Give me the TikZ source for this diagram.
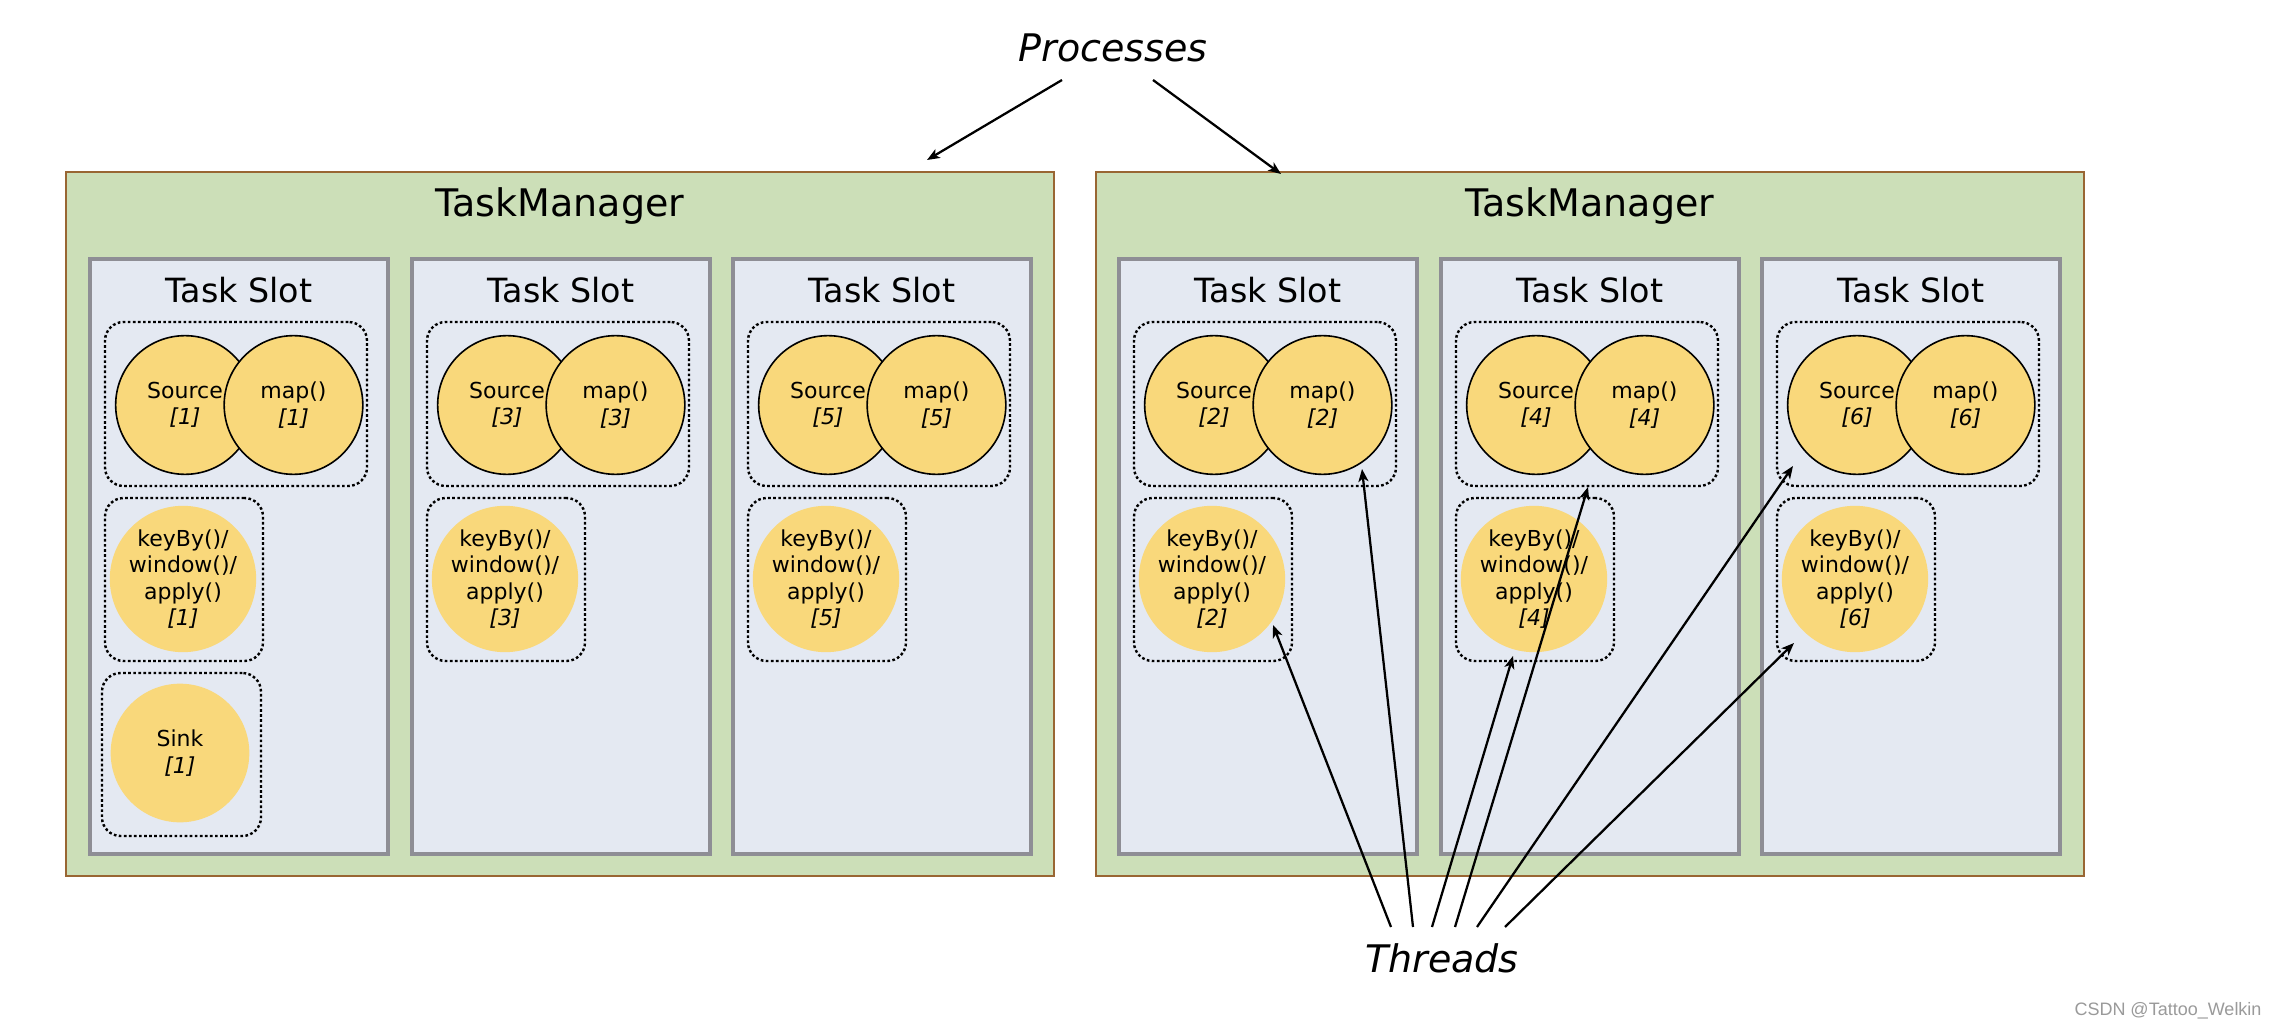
\documentclass[tikz,border=0pt]{standalone}
\usepackage{fontspec}
\setmainfont{DejaVu Sans}
\newfontfamily\wmfont{Liberation Sans}
\usetikzlibrary{arrows.meta,calc}
\definecolor{tmfill}{HTML}{CCDFB8}
\definecolor{tmdraw}{HTML}{996633}
\definecolor{slotfill}{HTML}{E4E9F2}
\definecolor{slotdraw}{HTML}{8E8E95}
\definecolor{opfill}{HTML}{F9D87B}
\definecolor{wmgray}{HTML}{9A9A9A}
\tikzset{
  tmbox/.style={draw=tmdraw, fill=tmfill, line width=2.2pt, minimum width=741pt, minimum height=528pt, inner sep=0pt},
  tmlabel/.style={font=\fontsize{28.5}{34}\selectfont, inner sep=0pt},
  slotbox/.style={draw=slotdraw, fill=slotfill, line width=2.3pt, minimum width=223.5pt, minimum height=446.25pt, inner sep=0pt},
  slotlabel/.style={font=\fontsize{25}{30}\selectfont, inner sep=0pt},
  grp/.style={draw=black, line width=1.8pt, dash pattern=on 2pt off 1.8pt, rounded corners=14pt, inner sep=0pt},
  op/.style={circle, fill=opfill, line width=1.2pt, minimum size=104pt, inner sep=0pt, align=center, font=\fontsize{16.5}{19.8}\selectfont},
  biglabel/.style={font=\fontsize{28.5}{34}\itshape, inner sep=0pt},
  arr/.style={line width=1.7pt, -{Stealth[length=9.5pt, width=7.5pt, inset=2.5pt]}},
}
\newcommand\myslot[2]{%
  \node[slotbox] (slot#2) at (#1+149, 556.5) {};
  \node[slotlabel] (slotlab#2) at (#1+149, 290) {Task Slot};
  \node[grp, minimum width=196.5pt, minimum height=123pt] (ga#2) at (#1+146, 404) {};
  \node[op, draw=black] (src#2) at (#1+95, 405) {Source\\\textit{[#2]}};
  \node[op, draw=black] (map#2) at (#1+203.5, 405) {map()\\\textit{[#2]}};
  \node[grp, minimum width=118.5pt, minimum height=122.25pt] (gb#2) at (#1+94, 579.5) {};
  \node[op] (kb#2) at (#1+93, 579) {keyBy()/\\window()/\\apply()\\\textit{[#2]}};
}
\begin{document}
\begin{tikzpicture}[x=0.75pt, y=-0.75pt]
  \useasboundingbox[fill=white] (0,0) rectangle (2282,1030);
  % Task managers
  \node[tmbox] (tm1) at (560, 524) {};
  \node[tmbox] (tm2) at (1590, 524) {};
  \node[tmlabel] (tml1) at (560, 206) {TaskManager};
  \node[tmlabel] (tml2) at (1590, 206) {TaskManager};
  % slots
  \myslot{90}{1}
  \myslot{412}{3}
  \myslot{733}{5}
  \myslot{1119}{2}
  \myslot{1441}{4}
  \myslot{1762}{6}
  % sink group in first slot
  \node[grp, minimum width=119.25pt, minimum height=122.25pt] (gc1) at (181.5, 754.5) {};
  \node[op] (sink1) at (180, 753) {Sink\\\textit{[1]}};
  % Processes
  \node[biglabel] (proc) at (1113, 48) {Processes};
  \coordinate (ps1) at (1062, 80);
  \coordinate (ps2) at (1153, 80);
  \coordinate (pe1) at (927, 160);
  \coordinate (pe2) at (1281, 174);
  \draw[arr] (ps1) -- (pe1);
  \draw[arr] (ps2) -- (pe2);
  % Threads
  \node[biglabel] (thr) at (1442, 958) {Threads};
  \coordinate (ts1) at (1391, 927);
  \coordinate (ts2) at (1413, 927);
  \coordinate (ts3) at (1432, 927);
  \coordinate (ts4) at (1455, 927);
  \coordinate (ts5) at (1477, 927);
  \coordinate (ts6) at (1505, 927);
  \coordinate (te1) at (1273, 625);
  \coordinate (te2) at (1362, 469);
  \coordinate (te3) at (1513, 656);
  \coordinate (te4) at (1588, 487);
  \coordinate (te5) at (1793, 466);
  \coordinate (te6) at (1794, 643);
  \foreach \i in {1,...,6} { \draw[arr] (ts\i) -- (te\i); }
  % watermark
  \node[font=\wmfont\fontsize{13.5}{16}\selectfont, text=wmgray, inner sep=0pt] (wm) at (2168, 1011) {CSDN @Tattoo\_Welkin};
\end{tikzpicture}
\end{document}
